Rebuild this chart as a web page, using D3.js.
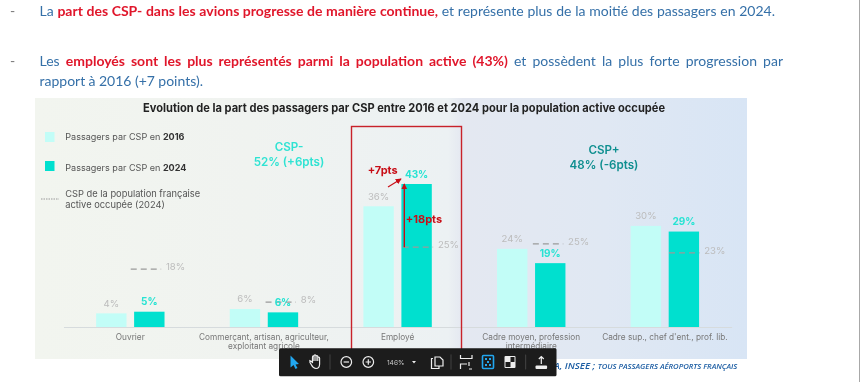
<!DOCTYPE html>
<html><head><meta charset="utf-8">
<script src="https://cdn.jsdelivr.net/npm/d3@7/dist/d3.min.js"></script>
<style>html,body{margin:0;background:#fff;overflow:hidden}svg{display:block}</style>
</head><body><svg id="c" width="860" height="382"></svg>
<script>
const categories=[["Ouvrier"],["Commerçant, artisan, agriculteur,","exploitant agricole"],["Employé"],["Cadre moyen, profession","intermédiaire"],["Cadre sup., chef d'ent., prof. lib."]];
const values2016=[4.1,5.4,36.3,23.5,30.4];
const values2024=[4.6,4.4,43,19.2,28.7];
const population=[17.4,7.5,24,25,22.3];
const labels2016=["4%","6%","36%","24%","30%"];
const labels2024=["5%","6%","43%","19%","29%"];
const labelsPop=["18%","8%","25%","25%","23%"];

const svg=d3.select("#c");
const defs=svg.append("defs");
const g=defs.append("linearGradient").attr("id","bg");
[[0,"#f2f5ef"],[.3,"#f0f3f0"],[.58,"#ecf1f3"],[.6,"#e4e8f1"],[.8,"#e0e8f3"],[1,"#d8e5f5"]].forEach(d=>g.append("stop").attr("offset",d[0]).attr("stop-color",d[1]));
defs.append("filter").attr("id","soft").append("feGaussianBlur").attr("stdDeviation",0.42);
const root=svg.append("g").attr("filter","url(#soft)");
const sans="Inter,'Noto Sans',sans-serif", body="Lato,'Open Sans',sans-serif";
const blue="#3570a8", red="#e0162b", mint="#c2fdf7", teal="#00e0cf", grey="#bcbcbc";

function line(y,segs,x0,x1){
  // one text line whose word gaps are stretched so it spans x0..x1, as justified text does
  const t=root.append("text").attr("y",y).attr("font-family",body).attr("font-size",14).attr("x",x0);
  segs.forEach(s=>t.append("tspan").text(s[0]).attr("fill",s[1]?red:blue).attr("font-weight",s[1]?700:400));
  const n=t.text().split(" ").length-1, w=t.node().getComputedTextLength();
  t.attr("word-spacing",(x1-x0-w)/n);
}
[15.5,66].forEach(y=>root.append("text").attr("x",10).attr("y",y).attr("font-family",body).attr("font-size",14).attr("fill","#777").text("-"));
line(15.5,[["La ",0],["part des CSP- dans les avions progresse de manière continue,",1],[" et représente plus de la moitié des passagers en 2024.",0]],39.5,775);
line(66,[["Les ",0],["employés sont les plus représentés parmi la population active (43%)",1],[" et possèdent la plus forte progression par",0]],39.5,783);
line(86,[["rapport à 2016 (+7 points).",0]],39.5,203);

root.append("rect").attr("x",35).attr("y",98).attr("width",712).attr("height",261).attr("fill","url(#bg)");
root.append("text").attr("x",404).attr("y",112).attr("text-anchor","middle").attr("font-family",sans).attr("font-weight",700).attr("font-size",11.5).attr("fill","#222").attr("textLength",522).attr("lengthAdjust","spacingAndGlyphs").text("Evolution de la part des passagers par CSP entre 2016 et 2024 pour la population active occupée");

const x0=d3.scaleBand().domain(d3.range(5)).range([63.5,731.7]);
const x1=d3.scaleBand().domain([0,1]).range([-34.2,34.2]).paddingInner(0.2).paddingOuter(0);
const y=d3.scaleLinear().domain([0,43]).range([327,184]);
const cx=i=>x0(i)+x0.bandwidth()/2;

const axis=d3.axisBottom(x0).tickSize(0).tickFormat("");
const ax=root.append("g").attr("transform","translate(0,327)").call(axis);
ax.select(".domain").attr("stroke","#d6dbdd").attr("stroke-width",1);

function bars(vals,k,fill){
  root.append("g").selectAll("rect").data(vals).join("rect")
   .attr("x",(d,i)=>cx(i)+x1(k)).attr("width",x1.bandwidth())
   .attr("y",d=>y(d)).attr("height",d=>327-y(d)).attr("fill",fill);
}
bars(values2016,0,mint);bars(values2024,1,teal);

// the reference's hand-placed dashes sit slightly off their bars
const dashShift=[-3.4,-2.2,1.3,-2.2,0.3];
const dashX=i=>cx(i)+x1(1)+dashShift[i];
root.append("g").selectAll("line").data(population).join("line")
 .attr("x1",(d,i)=>dashX(i)).attr("x2",(d,i)=>dashX(i)+x1.bandwidth())
 .attr("y1",d=>y(d)).attr("y2",d=>y(d)).attr("stroke","#9a9a9a").attr("stroke-width",1.3).attr("stroke-dasharray","6 4");

function labs(arr,vals,k,col,w){
  root.append("g").selectAll("text").data(arr).join("text")
   .attr("x",(d,i)=>cx(i)+x1(k)+x1.bandwidth()/2).attr("y",(d,i)=>y(vals[i])-10).attr("dy","0.35em")
   .attr("text-anchor","middle").attr("font-family",sans).attr("font-size",k?10:9.6).attr("font-weight",w).attr("fill",col).text(d=>d);
}
labs(labels2016,values2016,0,grey,400);labs(labels2024,values2024,1,"#27e3d3",700);
root.append("g").selectAll("text").data(labelsPop).join("text")
 .attr("x",(d,i)=>dashX(i)+x1.bandwidth()+4.8).attr("y",(d,i)=>y(population[i])-2.5).attr("dy","0.35em")
 .attr("font-family",sans).attr("font-size",9.6).attr("fill",grey).text(d=>d);

const cat=root.append("g").selectAll("text").data(categories).join("text")
 .attr("text-anchor","middle").attr("font-family",sans).attr("font-size",8.25).attr("fill","#777");
cat.each(function(d,i){d3.select(this).selectAll("tspan").data(d).join("tspan").attr("x",cx(i)).attr("y",(t,j)=>339.5+j*9.7).text(t=>t);});

// legend
[[132,mint,"Passagers par CSP en ","2016",139.5],[161,teal,"Passagers par CSP en ","2024",170.5]].forEach(l=>{
 root.append("rect").attr("x",45).attr("y",l[0]).attr("width",9.5).attr("height",10).attr("fill",l[1]);
 const t=root.append("text").attr("x",65.3).attr("y",l[4]).attr("font-family",sans).attr("font-size",9.05).attr("fill","#555");
 t.append("tspan").text(l[2]);t.append("tspan").attr("font-weight",700).attr("fill","#333").text(l[3]);
});
root.append("line").attr("x1",41).attr("x2",59).attr("y1",199).attr("y2",199).attr("stroke","#999").attr("stroke-dasharray","1.5 1");
["CSP de la population française","active occupée (2024)"].forEach((s,i)=>root.append("text").attr("x",65.3).attr("y",196.5+i*11).attr("font-family",sans).attr("font-size",9.3).attr("fill","#555").text(s));

// group captions
[["CSP-",289,151,"#2fe3d3"],["52% (+6pts)",289,165.5,"#2fe3d3"],["CSP+",604,154,"#108f90"],["48% (-6pts)",604,168.5,"#108f90"]].forEach(c=>
 root.append("text").attr("x",c[1]).attr("y",c[2]).attr("text-anchor","middle").attr("font-family",sans).attr("font-weight",600).attr("font-size",11.6).attr("fill",c[3]).text(c[0]));

// highlight box
root.append("rect").attr("x",351.5).attr("y",126.5).attr("width",110).attr("height",230).attr("fill","none").attr("stroke","#c8202a").attr("stroke-width",1.4);
const dark="#c80f18";
defs.append("marker").attr("id","ah").attr("viewBox","0 0 8 8").attr("refX",7).attr("refY",4).attr("markerWidth",6).attr("markerHeight",6).attr("markerUnits","userSpaceOnUse").attr("orient","auto")
 .append("path").attr("d","M0 0L8 4L0 8Z").attr("fill",dark);
root.append("line").attr("x1",388).attr("y1",187).attr("x2",401).attr("y2",179).attr("stroke",dark).attr("stroke-width",1.2).attr("marker-end","url(#ah)");
root.append("line").attr("x1",404.3).attr("y1",y(population[2])).attr("x2",404.3).attr("y2",y(values2024[2])).attr("stroke",dark).attr("stroke-width",1.4).attr("marker-end","url(#ah)");
[["+7pts",382.7,174],["+18pts",424,223]].forEach(c=>root.append("text").attr("x",c[1]).attr("y",c[2]).attr("text-anchor","middle").attr("font-family",sans).attr("font-weight",700).attr("font-size",11).attr("fill",dark).text(c[0]));

// source line
const src=root.append("text").attr("x",554).attr("y",369).attr("font-family","'Open Sans',sans-serif").attr("font-style","italic").attr("font-weight",600).attr("fill","#1c5da3");
src.append("tspan").attr("font-size",9.7).text("A, INSEE ; ");
src.append("tspan").attr("font-size",7.7).text("TOUS PASSAGERS AÉROPORTS FRANÇAIS");

// window edge
root.append("line").attr("x1",859.5).attr("x2",859.5).attr("y1",0).attr("y2",382).attr("stroke","#a8a8a8");

// viewer toolbar
const tb=root.append("g");
tb.append("rect").attr("x",279).attr("y",348.3).attr("width",277.5).attr("height",28).attr("rx",1.5).attr("fill","#1b1b1b");
const ic="#eeeeee",sw=1.2;
const P=(d,o={})=>tb.append("path").attr("d",d).attr("fill",o.fill||"none").attr("stroke",o.stroke===undefined?ic:o.stroke).attr("stroke-width",sw);
P("M290.5 355.5L290.5 367.5L293.5 365L295.5 369L297.5 368L295.5 364.5L299 364Z",{fill:"#22a7f0",stroke:"none"});
P("M311 362L309.5 360M311.5 365L310 362.5C309.5 361 311 360.5 312 362L312.5 363L312.5 357C312.5 355.5 314 355.5 314 357L314 361L314 356C314 354.5 316 354.5 316 356L316 361L316 356.5C316 355.3 317.8 355.3 317.8 356.8L317.8 361L317.8 358C317.8 356.8 319.6 356.8 319.6 358.2L319.6 364C319.6 367 318 368.5 316 368.5C313.5 368.5 312.5 367 311.5 365Z");
[330,451,525.7].forEach(x=>tb.append("line").attr("x1",x).attr("x2",x).attr("y1",354.5).attr("y2",369.5).attr("stroke","#444"));
[346.3,368.3].forEach((x,i)=>{tb.append("circle").attr("cx",x).attr("cy",362).attr("r",5.3).attr("fill","none").attr("stroke",ic).attr("stroke-width",sw);
 P(`M${x-2.7} 362H${x+2.7}`+(i?`M${x} 359.3V364.7`:""));});
tb.append("text").attr("x",395.7).attr("y",364.5).attr("text-anchor","middle").attr("font-family",sans).attr("font-size",6.6).attr("fill","#ccc").text("146%");
P("M412 361H416L414 363.5Z",{fill:ic,stroke:"none"});
P("M435 357H440L443 360V366H435ZM433 358.5H431.5V368.5H439V366.5");
P("M460.5 355V358.5H472V355M460.5 369V364H467M472 369H469M469 362V366");
tb.append("rect").attr("x",482.5).attr("y",355.5).attr("width",11).attr("height",13).attr("rx",1).attr("fill","none").attr("stroke","#22a7f0").attr("stroke-width",1.6);
[[486,359],[490,359],[488,362],[486,365],[490,365]].forEach(p=>tb.append("rect").attr("x",p[0]-1).attr("y",p[1]-1).attr("width",2).attr("height",2).attr("fill","#22a7f0"));
tb.append("rect").attr("x",504.5).attr("y",356).attr("width",11).attr("height",12).attr("rx",1).attr("fill",ic);
tb.append("rect").attr("x",505.5).attr("y",362).attr("width",5).attr("height",5).attr("fill","#1b1b1b");
tb.append("rect").attr("x",510.5).attr("y",357).attr("width",4).attr("height",5).attr("fill","#1b1b1b");
P("M541.3 364V357M538.8 359L541.3 356.5L543.8 359");
tb.append("rect").attr("x",535.5).attr("y",365.5).attr("width",11.6).attr("height",3.5).attr("rx",1).attr("fill",ic);
</script></body></html>
